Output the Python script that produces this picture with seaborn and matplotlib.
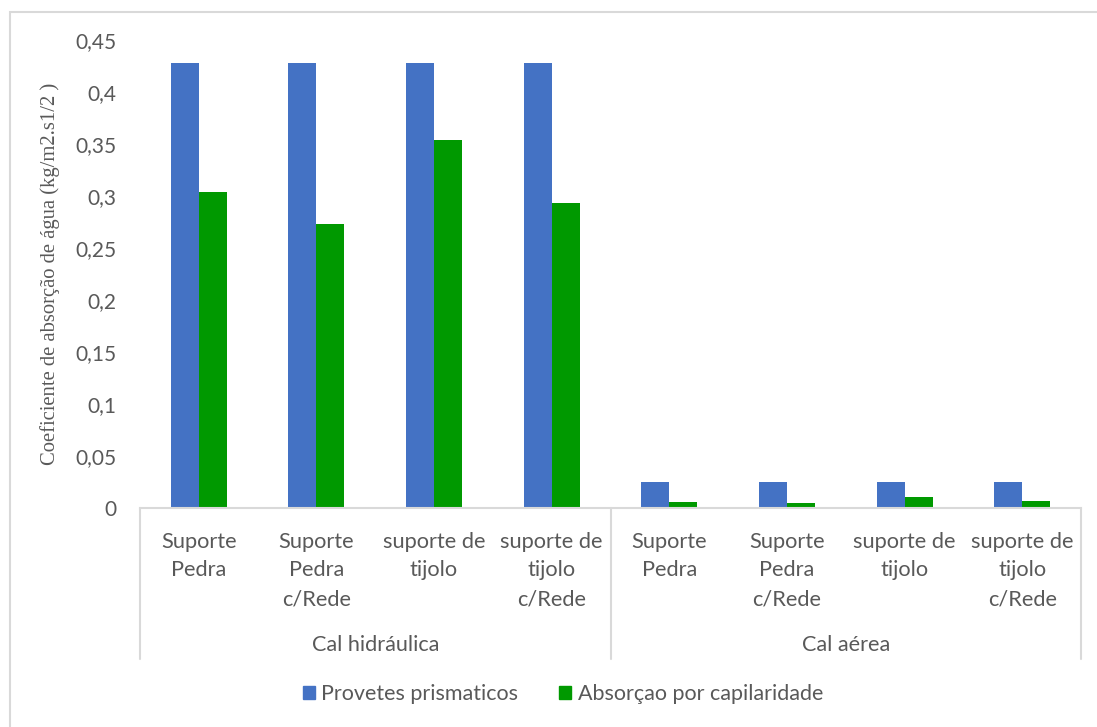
import matplotlib
matplotlib.use("Agg")
import matplotlib.pyplot as plt
from matplotlib.ticker import FuncFormatter, MultipleLocator
from matplotlib.patches import Rectangle
import seaborn as sns
import pandas as pd

# Data
groups = ["Cal hidráulica", "Cal aérea"]
supports = ["Suporte\nPedra", "Suporte\nPedra\nc/Rede", "suporte de\ntijolo", "suporte de\ntijolo\nc/Rede"]
series_names = ["Provetes prismaticos", "Absorçao por capilaridade"]
provetes = [0.428, 0.428, 0.428, 0.428, 0.025, 0.025, 0.025, 0.025]
capilaridade = [0.304, 0.273, 0.354, 0.293, 0.0058, 0.0048, 0.0106, 0.0067]

colors = {"Provetes prismaticos": "#4472C4", "Absorçao por capilaridade": "#009900"}
text_color = "#595959"
line_color = "#D9D9D9"
fs = 15
fs_cat = 15.7

keys = [f"{g}|{s}" for g in groups for s in supports]
rows = []
for k, v in zip(keys, provetes):
    rows.append({"cat": k, "serie": series_names[0], "valor": v})
for k, v in zip(keys, capilaridade):
    rows.append({"cat": k, "serie": series_names[1], "valor": v})
df = pd.DataFrame(rows)

sns.set_theme(style="white")
plt.rcParams["font.family"] = ["Lato", "DejaVu Sans"]

W, H = 1097, 727
fig = plt.figure(figsize=(W / 100, H / 100), dpi=100)
ax = fig.add_axes([140 / W, (H - 508) / H, (1081 - 140) / W, 468 / H])

sns.barplot(data=df, x="cat", y="valor", hue="serie", order=keys,
            hue_order=series_names, palette=colors, width=0.476,
            saturation=1, ax=ax, legend=False, linewidth=0)

ax.set_ylim(0, 0.45)
ax.set_xlim(-0.5, len(keys) - 0.5)
ax.yaxis.set_major_locator(MultipleLocator(0.05))
ax.yaxis.set_major_formatter(FuncFormatter(lambda v, p: f"{v:.2f}".rstrip("0").rstrip(".").replace(".", ",") if v else "0"))
ax.tick_params(axis="y", length=0, pad=17, labelsize=fs, labelcolor=text_color)
ax.tick_params(axis="x", length=0, pad=17, labelsize=fs_cat, labelcolor=text_color)
ax.set_xticks(range(len(keys)))
ax.set_xticklabels(supports * len(groups), linespacing=1.55)
ax.set_xlabel("")
ax.set_ylabel("Coeficiente de absorção de água (kg/m2.s1/2 )",
              family="Liberation Serif", fontsize=14.9, color=text_color, labelpad=11)

for side in ["left", "right", "top"]:
    ax.spines[side].set_visible(False)
ax.spines["bottom"].set_color(line_color)
ax.spines["bottom"].set_linewidth(1.5)

# Group separators and group labels below the axis
trans = ax.get_xaxis_transform()
y_sep = -(659 - 508) / 468
for xb in [-0.5, 3.5, 7.5]:
    ax.plot([xb, xb], [0, y_sep], transform=trans, color=line_color,
            linewidth=1.5, clip_on=False)
for i, g in enumerate(groups):
    ax.text(i * 4 + 1.5, -(645 - 508) / 468, g, transform=trans, ha="center",
            va="center", fontsize=15.6, color=text_color)

# Legend
handles = [Rectangle((0, 0), 1, 1, color=colors[s]) for s in series_names]
fig.legend(handles, series_names, loc="center", bbox_to_anchor=(563 / W, 1 - 694 / H),
           ncol=2, frameon=False, fontsize=15.5, handlelength=0.55, handleheight=0.55,
           handletextpad=0.3, columnspacing=1.9, labelcolor=text_color)

# Chart area border
fig.patches.append(Rectangle((10 / W, -0.1), 1.2, 1 - 12 / H + 0.1, transform=fig.transFigure,
                             fill=False, edgecolor=line_color, linewidth=1.5))

fig.savefig("out.png", dpi=100)
